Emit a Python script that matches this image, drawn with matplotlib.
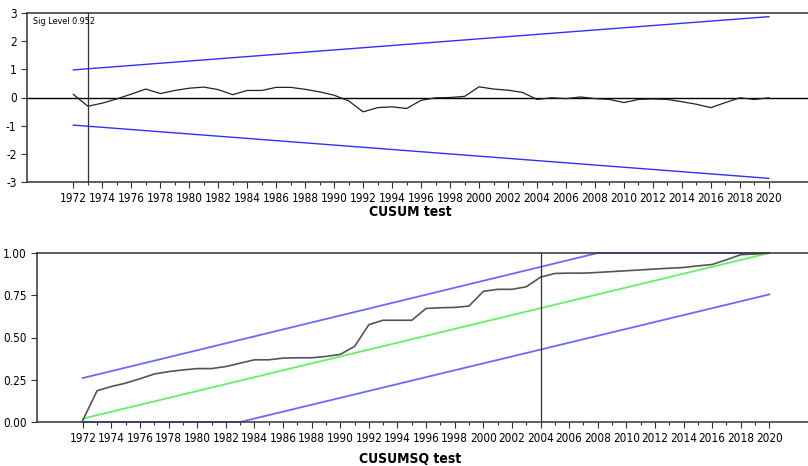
import matplotlib.pyplot as plt
import numpy as np

# CUSUM statistic (black line), 1972-2020
years = list(range(1972, 2021))
cusum = [0.11, -0.31, -0.20, -0.05, 0.12, 0.30, 0.14, 0.25, 0.33, 0.37,
         0.28, 0.10, 0.25, 0.25, 0.36, 0.36, 0.29, 0.20, 0.08, -0.12,
         -0.51, -0.36, -0.33, -0.39, -0.10, -0.01, 0.00, 0.04, 0.38, 0.30,
         0.26, 0.18, -0.07, -0.01, -0.04, 0.02, -0.04, -0.07, -0.18, -0.07,
         -0.05, -0.07, -0.15, -0.24, -0.36, -0.18, -0.01, -0.07, -0.01]
cusum_bound_years = [1972, 2020]
cusum_upper = [0.98, 2.87]
cusum_lower = [-0.98, -2.87]

# CUSUM of squares
cusumsq = [0.01, 0.185, 0.21, 0.23, 0.256, 0.284, 0.298, 0.308, 0.316, 0.316,
           0.328, 0.348, 0.368, 0.368, 0.378, 0.38, 0.38, 0.388, 0.40, 0.447,
           0.576, 0.602, 0.602, 0.602, 0.672, 0.676, 0.678, 0.686, 0.773, 0.785,
           0.785, 0.80, 0.857, 0.879, 0.881, 0.881, 0.885, 0.89, 0.895, 0.90,
           0.905, 0.91, 0.914, 0.924, 0.932, 0.96, 0.99, 0.994, 1.0]
sq_mid_years = [1972, 2020]
sq_mid = [0.02, 1.0]
sq_upper_years = [1972, 2008, 2020]
sq_upper = [0.26, 1.0, 1.0]
sq_lower_years = [1972, 1983, 2020]
sq_lower = [0.0, 0.0, 0.755]

plt.rcParams['font.family'] = ['DejaVu Sans']
plt.rcParams['font.stretch'] = 'condensed'
plt.rcParams['font.size'] = 8.5
plt.rcParams['axes.unicode_minus'] = False

fig = plt.figure(figsize=(8.08, 4.66), dpi=100)
ax1 = fig.add_axes([27/808, 1 - 182/466, 1 - 27/808, 169/466])
ax2 = fig.add_axes([37/808, 1 - 422/466, 1 - 37/808, 169/466])

xmin, xmax = 1968.8, 2022.7

def style(ax):
    ax.set_xlim(xmin, xmax)
    ax.spines['right'].set_visible(False)
    for s in ['left', 'top', 'bottom']:
        ax.spines[s].set_color('#333333')
        ax.spines[s].set_linewidth(1.1)
    ax.set_xticks(range(1972, 2021, 2))
    ax.set_xticks(range(1973, 2021, 2), minor=True)
    ax.tick_params(axis='x', which='major', length=4, width=0.8, color='#333333', pad=3.5)
    ax.tick_params(axis='x', which='minor', length=2.5, width=0.8, color='#333333')
    ax.tick_params(axis='y', length=4, width=0.8, color='#333333', pad=3.5)

# top: CUSUM
ax1.plot(cusum_bound_years, cusum_upper, color='#3030ff', lw=1.0)
ax1.plot(cusum_bound_years, cusum_lower, color='#3030ff', lw=1.0)
ax1.axhline(0, color='black', lw=1.0)
ax1.plot(years, cusum, color='#222222', lw=0.9)
ax1.axvline(1973, color='#333333', lw=0.9)
ax1.set_ylim(-3, 3)
ax1.set_yticks(range(-3, 4))
style(ax1)
ax1.text(6/781, 1 - 8/169, 'Sig Level 0.952', transform=ax1.transAxes,
         fontsize=6.5, va='center', ha='left')

# bottom: CUSUMSQ
ax2.plot(sq_upper_years, sq_upper, color='#6a6aff', lw=1.3, clip_on=False)
ax2.plot(sq_lower_years, sq_lower, color='#6a6aff', lw=1.3, clip_on=False)
ax2.plot(sq_mid_years, sq_mid, color='#66f066', lw=1.3)
ax2.plot(years, cusumsq, color='#555555', lw=1.2)
ax2.axvline(2004, color='#333333', lw=0.9)
ax2.set_ylim(0, 1)
ax2.set_yticks([0, 0.25, 0.5, 0.75, 1.0])
ax2.set_yticklabels(['0.00', '0.25', '0.50', '0.75', '1.00'])
style(ax2)

fig.text(410/808, 1 - 212/466, 'CUSUM test', ha='center', va='center',
         fontsize=10, fontweight='bold')
fig.text(410/808, 1 - 459/466, 'CUSUMSQ test', ha='center', va='center',
         fontsize=10, fontweight='bold')

fig.savefig('out.png', dpi=100)
